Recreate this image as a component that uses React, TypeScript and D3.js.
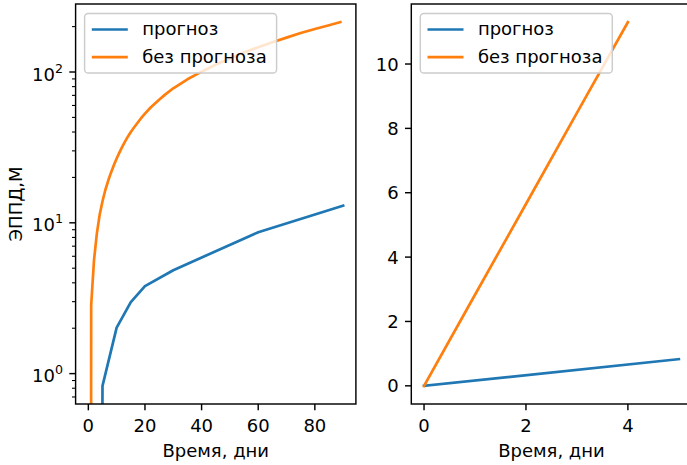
import React from 'react';
import * as d3 from 'd3';

// ---- data ----
const seriesNames = ['прогноз', 'без прогноза'];
const seriesColors = ['#1f77b4', '#ff7f0e'];

const forecastDays = [0, 5, 10, 15, 20, 30, 60, 90];
const forecastValues = [0, 0.83, 2.02, 2.98, 3.8, 4.85, 8.66, 13.0];

const noForecastDays = [0, 1, 2, 3, 4, 5, 6, 7, 8, 9, 10, 11, 12, 13, 14, 15, 16, 17, 18, 19, 20, 22, 25, 27, 30, 35, 40, 45, 50, 55, 60, 65, 70, 75, 80, 85, 89];
const noForecastValues = [0, 2.83, 5.65, 8.48, 11.3, 13.9, 16.5, 19.0, 21.5, 24.1, 26.7, 29.3, 32.0, 34.7, 37.4, 40.0, 42.5, 45.0, 47.7, 50.4, 53.0, 58.2, 65.5, 70.5, 78, 89.5, 100.5, 112, 123, 134.5, 146, 157.5, 169, 181.5, 193, 204, 214];

// right panel shows only the first days
const zoomForecastLastDay = 5;
const zoomNoForecastLastDay = 4;

const leftXTicks = [0, 20, 40, 60, 80];
const leftYMajorTicks = [1, 10, 100];
const leftYMajorExponents = ['0', '1', '2'];
const rightXTicks = [0, 2, 4];
const rightYTicks = [0, 2, 4, 6, 8, 10];

const xLabel = 'Время, дни';
const yLabel = 'ЭППД,М';

// ---- styling ----
const W = 687;
const H = 465;
const FONT = '"DejaVu Sans", sans-serif';
const FS = 18;
const LW = 2.7;
const SPINE = 1.44;
const TICK = 6.3;
const MINOR = 3.6;
const PAD = 6.3;
const TOP = 4;
const BOTTOM = 404;
const LEFT_AX = { x0: 75.6, x1: 355.9 };
const RIGHT_AX = { x0: 411.3, x1: 691.6 };

type Pt = { x: number; y: number };

function zip(xs: number[], ys: number[]): Pt[] {
  return xs.map((x, i) => ({ x, y: ys[i] }));
}

function padLinear(lo: number, hi: number): [number, number] {
  const m = (hi - lo) * 0.05;
  return [lo - m, hi + m];
}

const leftSeries = [zip(forecastDays, forecastValues), zip(noForecastDays, noForecastValues)];
const rightSeries = [
  leftSeries[0].filter((p) => p.x <= zoomForecastLastDay),
  leftSeries[1].filter((p) => p.x <= zoomNoForecastLastDay),
];

function Legend({ x0, y0 }: { x0: number; y0: number }) {
  const bx = x0 + 9;
  const by = y0 + 9.5;
  return (
    <g>
      <rect x={bx} y={by} width={192} height={59.5} rx={3.6} ry={3.6}
        fill="white" fillOpacity={0.8} stroke="#cccccc" strokeWidth={1.44} />
      {seriesNames.map((name, i) => (
        <g key={name}>
          <line x1={bx + 7.2} x2={bx + 43.2} y1={by + 16 + i * 27.6} y2={by + 16 + i * 27.6}
            stroke={seriesColors[i]} strokeWidth={LW} />
          <text x={bx + 57.6} y={by + 21.6 + i * 27.6} fontSize={FS} fontFamily={FONT} fill="#000">{name}</text>
        </g>
      ))}
    </g>
  );
}

function LeftPanel() {
  const allX = [...forecastDays, ...noForecastDays];
  const x = d3.scaleLinear().domain(padLinear(d3.min(allX)!, d3.max(allX)!)).range([LEFT_AX.x0, LEFT_AX.x1]);
  const pos = [...forecastValues, ...noForecastValues].filter((v) => v > 0);
  const lLo = Math.log10(d3.min(pos)!);
  const lHi = Math.log10(d3.max(pos)!);
  const lm = (lHi - lLo) * 0.05;
  const y = d3.scaleLog().domain([Math.pow(10, lLo - lm), Math.pow(10, lHi + lm)]).range([BOTTOM, TOP]);
  const [d0, d1] = y.domain();
  const minor: number[] = [];
  for (let e = Math.floor(Math.log10(d0)); e <= Math.ceil(Math.log10(d1)); e++) {
    for (let k = 2; k <= 9; k++) {
      const v = k * Math.pow(10, e);
      if (v >= d0 && v <= d1) minor.push(v);
    }
  }
  const line = d3.line<Pt>().x((p) => x(p.x)).y((p) => y(p.y > 0 ? p.y : 1e-30));
  return (
    <g>
      <defs>
        <clipPath id="clipL">
          <rect x={LEFT_AX.x0} y={TOP} width={LEFT_AX.x1 - LEFT_AX.x0} height={BOTTOM - TOP} />
        </clipPath>
      </defs>
      <g clipPath="url(#clipL)">
        {leftSeries.map((s, i) => (
          <path key={i} d={line(s)!} fill="none" stroke={seriesColors[i]} strokeWidth={LW} strokeLinejoin="round" strokeLinecap="square" />
        ))}
      </g>
      <rect x={LEFT_AX.x0} y={TOP} width={LEFT_AX.x1 - LEFT_AX.x0} height={BOTTOM - TOP} fill="none" stroke="#000" strokeWidth={SPINE} />
      {leftXTicks.map((t) => (
        <g key={t}>
          <line x1={x(t)} x2={x(t)} y1={BOTTOM} y2={BOTTOM + TICK} stroke="#000" strokeWidth={SPINE} />
          <text x={x(t)} y={432} textAnchor="middle" fontSize={FS} fontFamily={FONT}>{t}</text>
        </g>
      ))}
      {minor.map((v) => (
        <line key={v} x1={LEFT_AX.x0 - MINOR} x2={LEFT_AX.x0} y1={y(v)} y2={y(v)} stroke="#000" strokeWidth={1.08} />
      ))}
      {leftYMajorTicks.map((t, i) => (
        <g key={t}>
          <line x1={LEFT_AX.x0 - TICK} x2={LEFT_AX.x0} y1={y(t)} y2={y(t)} stroke="#000" strokeWidth={SPINE} />
          <text x={LEFT_AX.x0 - TICK - PAD} y={y(t) + 8.6} textAnchor="end" fontSize={FS} fontFamily={FONT}>
            10<tspan dy={-8} fontSize={12.6}>{leftYMajorExponents[i]}</tspan>
          </text>
        </g>
      ))}
      <text x={(LEFT_AX.x0 + LEFT_AX.x1) / 2} y={457} textAnchor="middle" fontSize={FS} fontFamily={FONT}>{xLabel}</text>
      <text transform={`translate(22,${(TOP + BOTTOM) / 2}) rotate(-90)`} textAnchor="middle" fontSize={FS} fontFamily={FONT}>{yLabel}</text>
      <Legend x0={LEFT_AX.x0} y0={TOP} />
    </g>
  );
}

function RightPanel() {
  const allX = rightSeries.flat().map((p) => p.x);
  const allY = rightSeries.flat().map((p) => p.y);
  const x = d3.scaleLinear().domain(padLinear(d3.min(allX)!, d3.max(allX)!)).range([RIGHT_AX.x0, RIGHT_AX.x1]);
  const y = d3.scaleLinear().domain(padLinear(d3.min(allY)!, d3.max(allY)!)).range([BOTTOM, TOP]);
  const line = d3.line<Pt>().x((p) => x(p.x)).y((p) => y(p.y));
  return (
    <g>
      <defs>
        <clipPath id="clipR">
          <rect x={RIGHT_AX.x0} y={TOP} width={RIGHT_AX.x1 - RIGHT_AX.x0} height={BOTTOM - TOP} />
        </clipPath>
      </defs>
      <g clipPath="url(#clipR)">
        {rightSeries.map((s, i) => (
          <path key={i} d={line(s)!} fill="none" stroke={seriesColors[i]} strokeWidth={LW} strokeLinejoin="round" strokeLinecap="square" />
        ))}
      </g>
      <rect x={RIGHT_AX.x0} y={TOP} width={RIGHT_AX.x1 - RIGHT_AX.x0} height={BOTTOM - TOP} fill="none" stroke="#000" strokeWidth={SPINE} />
      {rightXTicks.map((t) => (
        <g key={t}>
          <line x1={x(t)} x2={x(t)} y1={BOTTOM} y2={BOTTOM + TICK} stroke="#000" strokeWidth={SPINE} />
          <text x={x(t)} y={432} textAnchor="middle" fontSize={FS} fontFamily={FONT}>{t}</text>
        </g>
      ))}
      {rightYTicks.map((t) => (
        <g key={t}>
          <line x1={RIGHT_AX.x0 - TICK} x2={RIGHT_AX.x0} y1={y(t)} y2={y(t)} stroke="#000" strokeWidth={SPINE} />
          <text x={RIGHT_AX.x0 - TICK - PAD} y={y(t) + 6.6} textAnchor="end" fontSize={FS} fontFamily={FONT}>{t}</text>
        </g>
      ))}
      <text x={(RIGHT_AX.x0 + RIGHT_AX.x1) / 2} y={457} textAnchor="middle" fontSize={FS} fontFamily={FONT}>{xLabel}</text>
      <Legend x0={RIGHT_AX.x0} y0={TOP} />
    </g>
  );
}

export default function App() {
  return (
    <svg width={W} height={H} viewBox={`0 0 ${W} ${H}`}
      style={{ position: 'absolute', left: 0, top: 0, background: 'white' }}>
      <rect width={W} height={H} fill="white" />
      <LeftPanel />
      <RightPanel />
    </svg>
  );
}
